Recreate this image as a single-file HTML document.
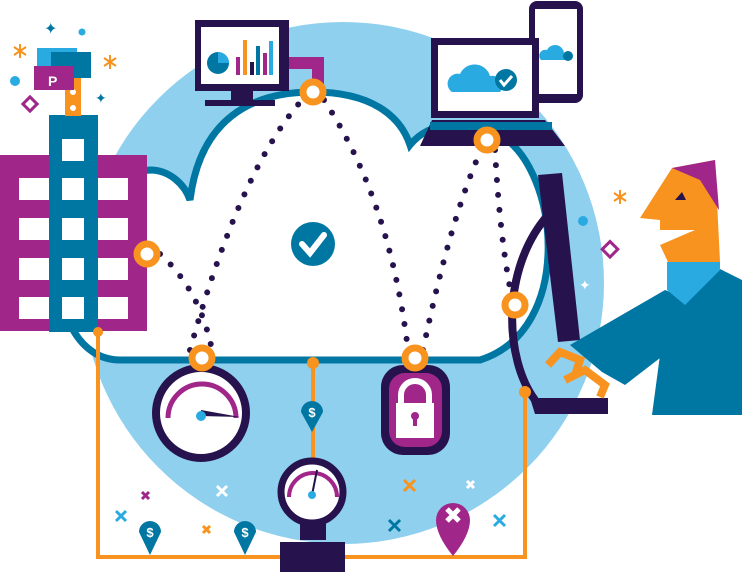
<!DOCTYPE html>
<html><head><meta charset="utf-8"><style>
html,body{margin:0;padding:0;background:#fff;}
svg{display:block;font-family:"Liberation Sans",sans-serif;}
</style></head><body>
<svg width="742" height="572" viewBox="0 0 742 572" xmlns="http://www.w3.org/2000/svg">
<circle cx="343" cy="283" r="261" fill="#8fd0ee"/>
<path d="M120,360 C40,360 30,180 150,170 C170,170 185,185 190,200 C200,120 250,92 313,92 C370,92 400,115 410,145 C430,120 470,118 500,135 C560,170 575,330 480,360 Z" fill="#fff" stroke="#0077a3" stroke-width="7"/>
<rect x="0" y="155" width="147" height="176" fill="#a0268a"/>
<rect x="49" y="115" width="49" height="217" fill="#0077a3"/>
<g fill="#fff">
<rect x="19" y="178" width="30" height="22"/><rect x="98" y="178" width="30" height="22"/>
<rect x="19" y="218" width="30" height="22"/><rect x="98" y="218" width="30" height="22"/>
<rect x="19" y="258" width="30" height="22"/><rect x="98" y="258" width="30" height="22"/>
<rect x="19" y="297" width="30" height="22"/><rect x="98" y="297" width="30" height="22"/>
<rect x="62" y="139" width="22" height="22"/><rect x="62" y="178" width="22" height="22"/>
<rect x="62" y="218" width="22" height="22"/><rect x="62" y="258" width="22" height="22"/>
<rect x="62" y="297" width="22" height="22"/>
</g>
<rect x="65" y="76" width="16" height="40" fill="#f7931e"/>
<circle cx="73" cy="92" r="3" fill="#fff"/><circle cx="73" cy="108" r="3" fill="#fff"/>
<rect x="37" y="48" width="40" height="28" fill="#29abe2"/>
<rect x="51" y="52" width="40" height="26" fill="#0077a3"/>
<rect x="34" y="66" width="40" height="24" fill="#a0268a"/>
<text x="48" y="86" font-size="14" font-weight="bold" fill="#fff">P</text>
<g stroke="#f7931e" stroke-width="2">
<path d="M20,44 v14 M14,47 l12,8 M26,47 l-12,8"/>
<path d="M110,55 v14 M104,58 l12,8 M116,58 l-12,8"/>
<path d="M620,190 v14 M614,193 l12,8 M626,193 l-12,8"/>
</g>
<text x="44" y="34" font-size="16" fill="#0077a3">✦</text>
<text x="95" y="103" font-size="14" fill="#0077a3">✦</text>
<circle cx="82" cy="32" r="3.5" fill="#29abe2"/>
<circle cx="15" cy="81" r="5" fill="#29abe2"/>
<rect x="25" y="99" width="10" height="10" fill="none" stroke="#a0268a" stroke-width="3" transform="rotate(45 30 104)"/>
<path d="M286,63 L318,63 L318,85" stroke="#a0268a" stroke-width="12" fill="none"/>
<rect x="195" y="20" width="94" height="71" fill="#26124d"/>
<rect x="201" y="27" width="78" height="57" fill="#fff"/>
<rect x="231" y="91" width="22" height="10" fill="#26124d"/>
<rect x="205" y="100" width="70" height="6" fill="#26124d"/>
<circle cx="218" cy="63" r="11" fill="#0077a3"/>
<path d="M218,52 A11,11 0 0 1 229,63 L218,63 Z" fill="#29abe2"/>
<rect x="236" y="57" width="4" height="18" fill="#a0268a"/>
<rect x="243" y="40" width="4" height="35" fill="#f7931e"/>
<rect x="250" y="62" width="4" height="13" fill="#26124d"/>
<rect x="256" y="46" width="4" height="29" fill="#0077a3"/>
<rect x="263" y="53" width="4" height="22" fill="#a0268a"/>
<rect x="269" y="41" width="4" height="34" fill="#29abe2"/>
<rect x="529" y="1" width="54" height="102" rx="8" fill="#26124d"/>
<rect x="535" y="9" width="42" height="85" fill="#fff"/>
<path d="M541,60 a6,6 0 0 1 6,-10 a9,9 0 0 1 17,3 a5,5 0 0 1 5,7 Z" fill="#29abe2"/>
<circle cx="568" cy="56" r="5" fill="#0077a3"/>
<rect x="431" y="38" width="108" height="80" fill="#26124d"/>
<rect x="438" y="45" width="94" height="66" fill="#fff"/>
<path d="M420,146 L565,146 L545,120 L432,120 Z" fill="#26124d"/>
<rect x="430" y="122" width="122" height="8" fill="#0077a3"/>
<path d="M452,92 a10,10 0 0 1 8,-18 a16,16 0 0 1 30,2 a10,10 0 0 1 10,16 Z" fill="#29abe2"/>
<circle cx="506" cy="80" r="11" fill="#0077a3"/>
<path d="M500,80 l4,5 l8,-9" stroke="#fff" stroke-width="3" fill="none"/>
<circle cx="313" cy="244" r="22" fill="#0077a3"/>
<path d="M302,244 l8,9 l14,-18" stroke="#fff" stroke-width="6" fill="none" stroke-linecap="round"/>
<g stroke="#26124d" stroke-width="6" stroke-linecap="round" stroke-dasharray="0 15" fill="none">
<path d="M160,254 Q200,290 212,350"/>
<path d="M190,350 Q240,170 302,100"/>
<path d="M324,100 Q390,200 408,350"/>
<path d="M423,350 Q450,220 481,150"/>
<path d="M495,150 Q500,240 512,298"/>
</g>
<path d="M548,215 C500,270 505,360 535,400" stroke="#26124d" stroke-width="8" fill="none"/>
<path d="M530,398 L608,398 L608,414 L535,414 Z" fill="#26124d"/>
<polygon points="538,175 562,173 580,340 558,342" fill="#26124d"/>
<polygon points="570,345 665,290 690,300 690,335 625,385 602,372" fill="#0077a3"/>
<polygon points="685,300 718,268 742,280 742,415 652,415 660,355" fill="#0077a3"/>
<polygon points="667,262 720,262 720,270 685,305 667,290" fill="#29abe2"/>
<polygon points="672,168 715,160 720,262 668,262 660,245 695,230 660,230 660,220 640,218" fill="#f7931e"/>
<polygon points="672,168 715,160 719,210 700,180" fill="#a0268a"/>
<polygon points="675,200 682,192 686,200" fill="#26124d"/>
<path d="M548,365 L560,352 L580,360 L575,375 M565,380 L585,370 L605,385 L600,397" stroke="#f7931e" stroke-width="8" fill="none"/>
<circle cx="583" cy="221" r="5" fill="#29abe2"/>
<rect x="604" y="244" width="11" height="11" fill="none" stroke="#a0268a" stroke-width="3" transform="rotate(45 610 250)"/>
<text x="579" y="290" font-size="14" fill="#fff">✦</text>
<g stroke="#f7931e" stroke-width="4" fill="none">
<path d="M98,332 L98,557 L525,557 L525,392"/>
<path d="M313,363 L313,460"/>
</g>
<circle cx="98" cy="332" r="5" fill="#f7931e"/>
<circle cx="313" cy="363" r="6" fill="#f7931e"/>
<circle cx="525" cy="392" r="6" fill="#f7931e"/>
<circle cx="201" cy="413" r="45" fill="#fff" stroke="#26124d" stroke-width="8"/>
<path d="M168,418 A34,34 0 0 1 236,418" stroke="#a0268a" stroke-width="5" fill="none"/>
<polygon points="201,410 240,417 201,416" fill="#26124d"/>
<circle cx="201" cy="416" r="5" fill="#29abe2"/>
<rect x="381" y="365" width="69" height="90" rx="22" fill="#26124d"/>
<rect x="389" y="373" width="53" height="74" rx="16" fill="#a0268a"/>
<path d="M401,405 L401,395 A14,14 0 0 1 429,395 L429,405" stroke="#fff" stroke-width="6" fill="none"/>
<rect x="396" y="403" width="38" height="35" fill="#fff"/>
<circle cx="415" cy="416" r="4" fill="#a0268a"/><rect x="413" y="416" width="4" height="10" fill="#a0268a"/>
<rect x="300" y="520" width="26" height="20" fill="#26124d"/>
<rect x="280" y="542" width="65" height="30" fill="#26124d"/>
<circle cx="312" cy="492" r="31" fill="#fff" stroke="#26124d" stroke-width="7"/>
<path d="M289,497 A24,24 0 0 1 337,497" stroke="#a0268a" stroke-width="4" fill="none"/>
<path d="M312,495 L317,470" stroke="#26124d" stroke-width="2"/>
<circle cx="312" cy="495" r="4" fill="#29abe2"/>
<g fill="#fff" stroke="#f7931e" stroke-width="7">
<circle cx="147" cy="254" r="10"/><circle cx="202" cy="358" r="10"/>
<circle cx="313" cy="92" r="10"/><circle cx="415" cy="358" r="10"/>
<circle cx="487" cy="140" r="10"/><circle cx="515" cy="305" r="10"/>
</g>
<g fill="#0077a3">
<path d="M301,412 a11,11 0 0 1 22,0 L312,432 Z"/>
<path d="M139,532 a11,11 0 0 1 22,0 L150,555 Z"/>
<path d="M234,532 a11,11 0 0 1 22,0 L245,555 Z"/>
</g>
<g fill="#fff" font-size="13" font-weight="bold" text-anchor="middle">
<text x="312" y="417">$</text><text x="150" y="537">$</text><text x="245" y="537">$</text>
</g>
<path d="M436,520 a17,17 0 0 1 34,0 Q470,535 453,556 Q436,535 436,520 Z" fill="#a0268a"/>
<path d="M447,509 l12,12 M459,509 l-12,12" stroke="#fff" stroke-width="5"/>
<g stroke-width="3">
<path d="M116,511 l10,10 M126,511 l-10,10" stroke="#29abe2"/>
<path d="M142,492 l7,7 M149,492 l-7,7" stroke="#a0268a"/>
<path d="M217,486 l10,10 M227,486 l-10,10" stroke="#fff"/>
<path d="M203,526 l7,7 M210,526 l-7,7" stroke="#f7931e"/>
<path d="M404,480 l11,11 M415,480 l-11,11" stroke="#f7931e"/>
<path d="M467,481 l7,7 M474,481 l-7,7" stroke="#fff"/>
<path d="M389,520 l11,11 M400,520 l-11,11" stroke="#0077a3"/>
<path d="M494,515 l11,11 M505,515 l-11,11" stroke="#29abe2"/>
</g>
</svg>
</body></html>
